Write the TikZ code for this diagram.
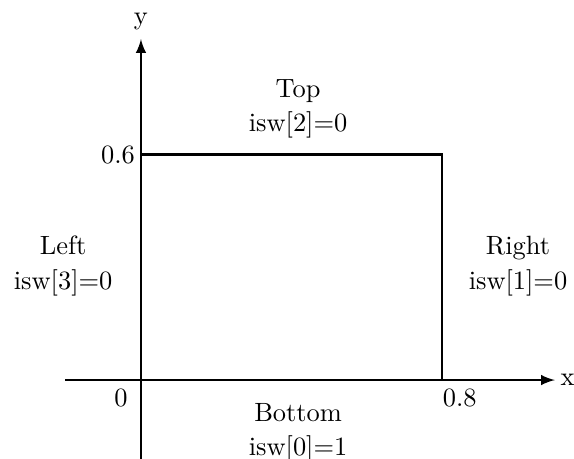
\documentclass[tikz,border=0pt]{standalone}
\begin{document}
\begin{tikzpicture}[x=5cm, y=5cm, lbl/.style={anchor=base}]
  \useasboundingbox (-0.375,-0.210) rectangle (1.152,1.011);
  % axes
  \coordinate (xs) at (-0.202,0);
  \coordinate (xe) at (1.101,0);
  \coordinate (ys) at (0,-0.215);
  \coordinate (ye) at (0,0.907);
  \draw[thick,-latex] (xs) -- (xe);
  \draw[thick,-latex] (ys) -- (ye);
  \node[right, inner sep=2pt] (xlab) at (xe) {x};
  \node[above] (ylab) at (ye) {y};
  % domain
  \coordinate (br) at (0.8,0);
  \coordinate (tr) at (0.8,0.6);
  \coordinate (tl) at (0,0.6);
  \draw[thick] (br) -- (tr) -- (tl);
  \node (zero) at (-0.053,-0.048) {0};
  \node (xmax) at (0.848,-0.048) {0.8};
  \node (ymax) at (-0.061,0.6) {0.6};
  % boundaries
  \node[lbl] (top) at (0.418,0.752) {Top};
  \node[lbl] (topsw) at (0.418,0.662) {isw[2]=0};
  \node[lbl] (left) at (-0.207,0.334) {Left};
  \node[lbl] (leftsw) at (-0.207,0.240) {isw[3]=0};
  \node[lbl] (right) at (1.003,0.334) {Right};
  \node[lbl] (rightsw) at (1.003,0.240) {isw[1]=0};
  \node[lbl] (bottom) at (0.418,-0.111) {Bottom};
  \node[lbl] (bottomsw) at (0.418,-0.200) {isw[0]=1};
\end{tikzpicture}
\end{document}
